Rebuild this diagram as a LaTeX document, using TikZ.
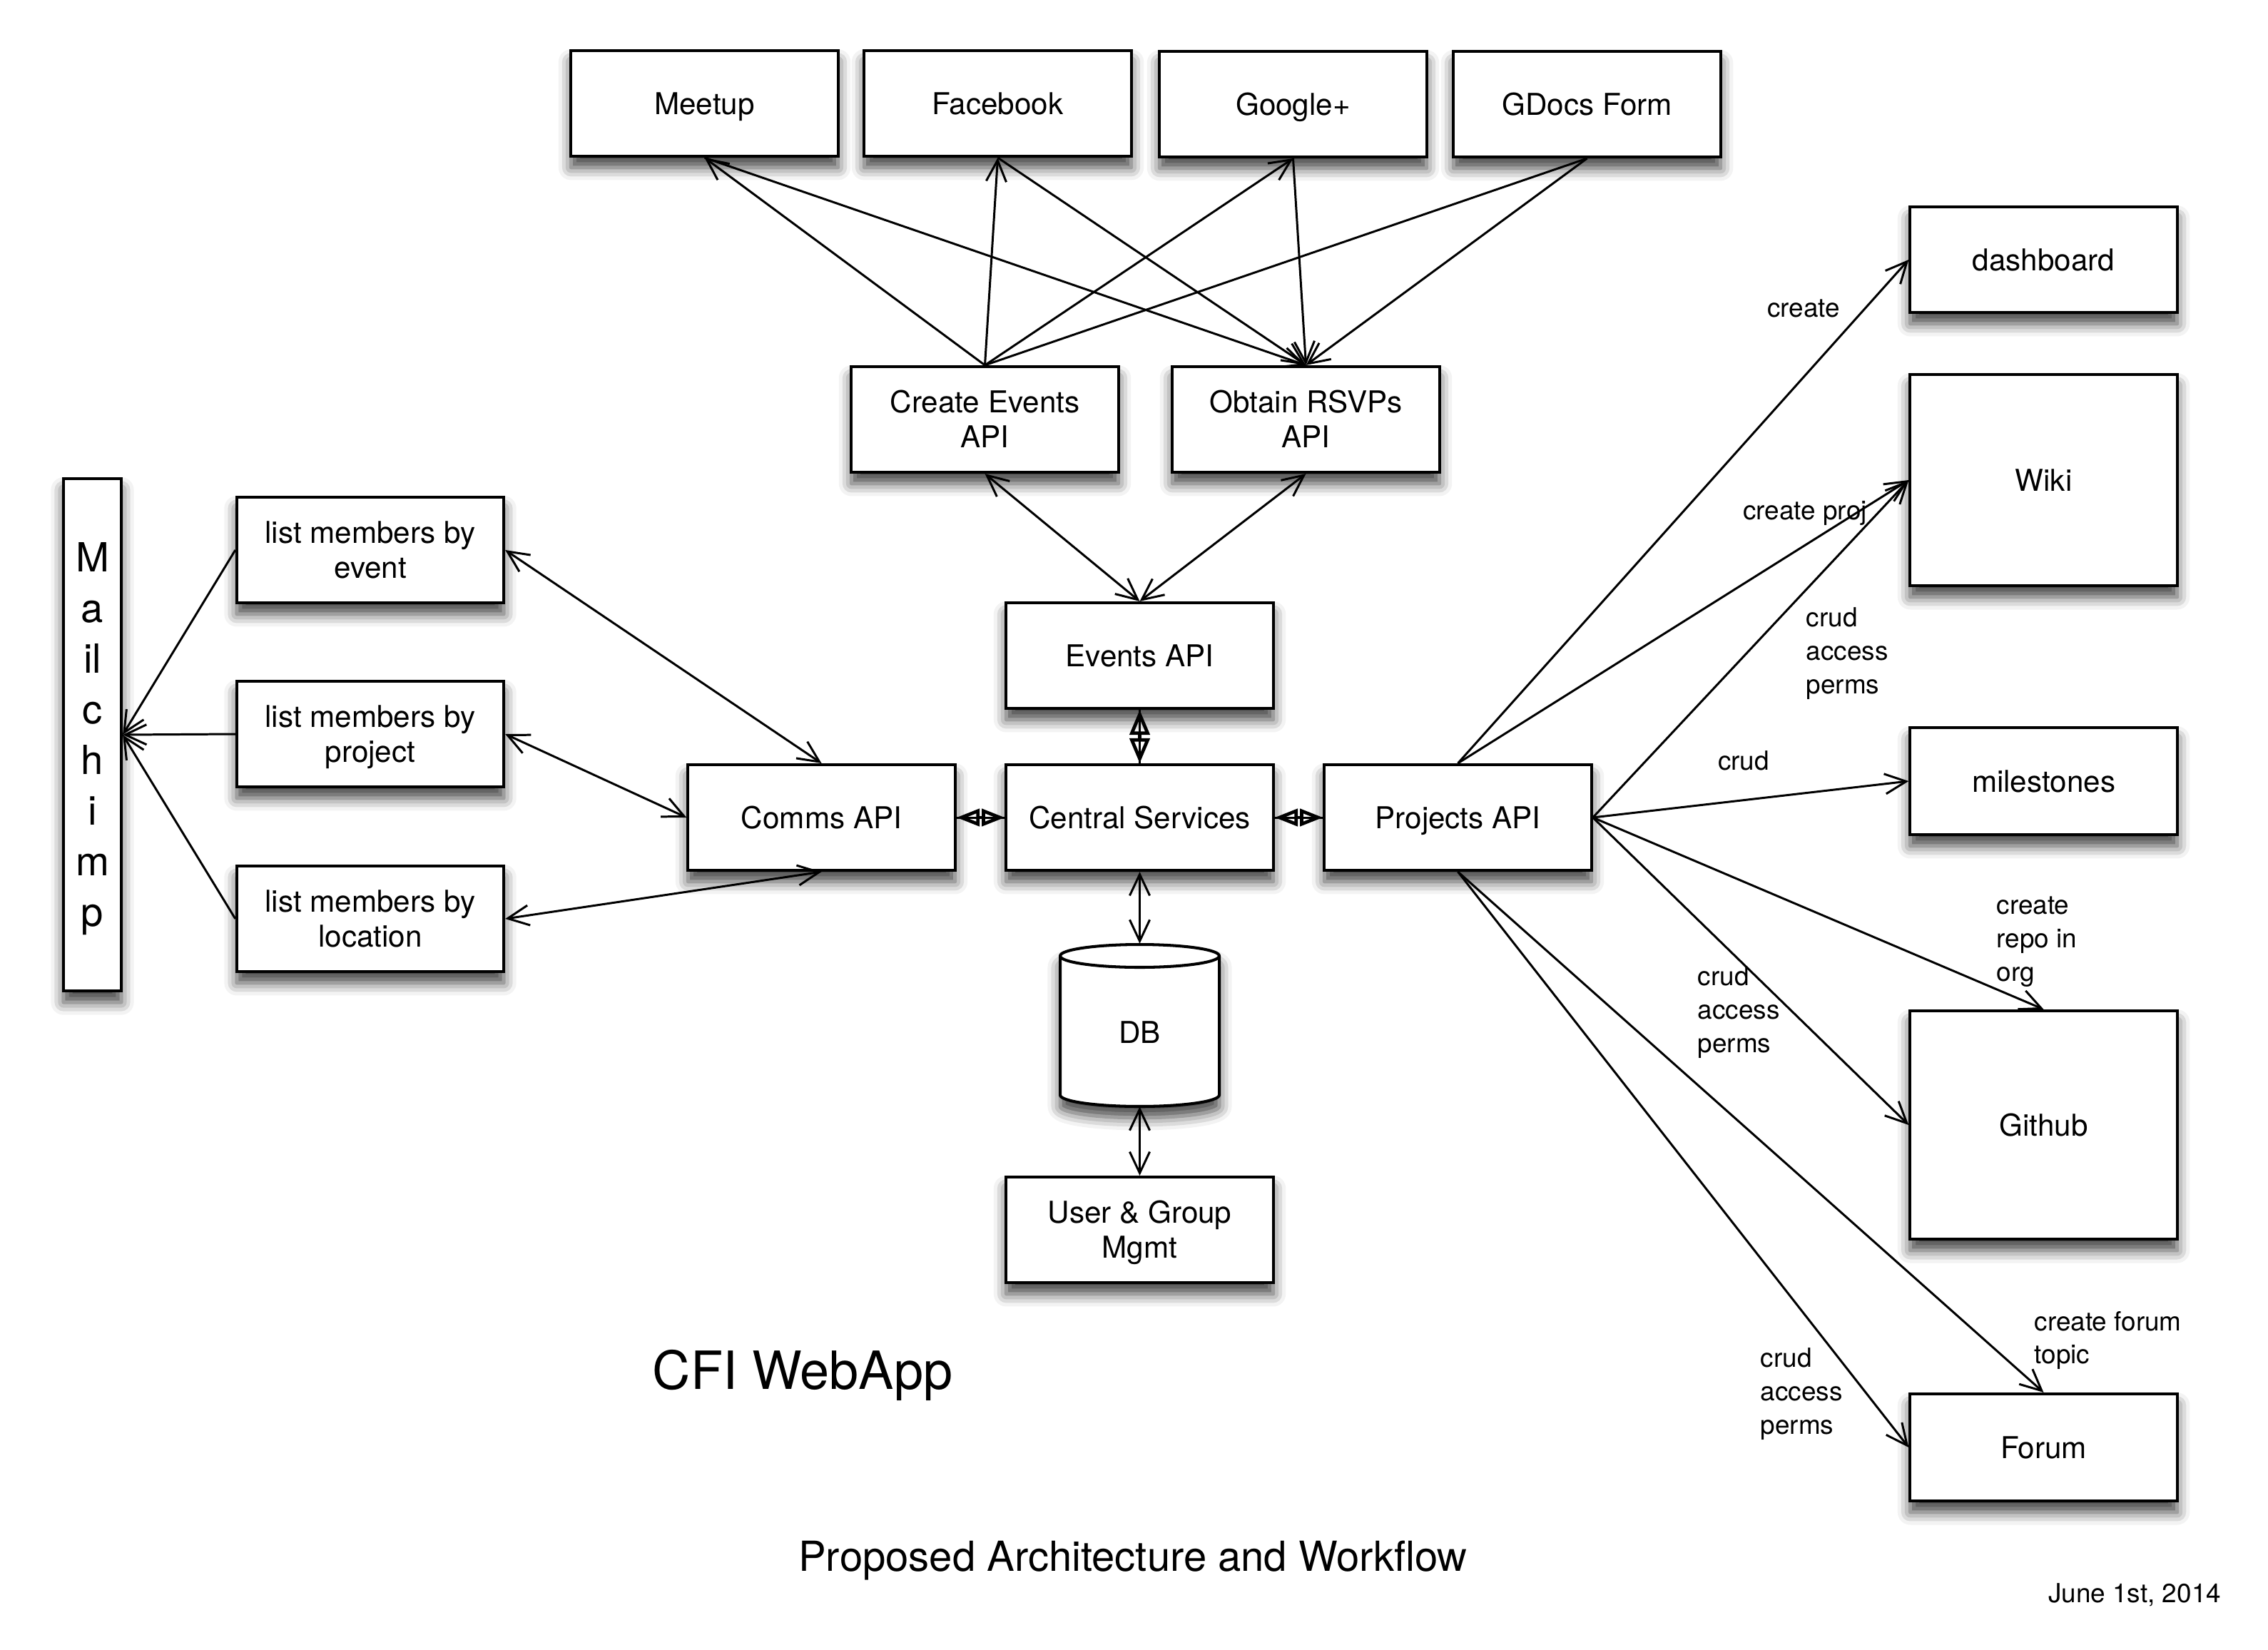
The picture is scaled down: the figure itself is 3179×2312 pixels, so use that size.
\documentclass[tikz,border=0pt]{standalone}
\usepackage{fontspec}
\setmainfont{TeX Gyre Heros}
\usetikzlibrary{arrows.meta,shadows.blur}
\newcommand\mytopstrut{\rule{0pt}{12pt}}
\newcommand\mybotstrut{\rule[-3.4pt]{0pt}{3.4pt}}
\begin{document}
\begin{tikzpicture}[x=0.01cm,y=-0.01cm,
  boxshadow/.style={blur shadow={shadow xshift=0pt, shadow yshift=-4.5pt, shadow blur radius=5pt, shadow opacity=75}},
  box/.style={draw, line width=1.15pt, fill=white, rectangle, inner sep=0pt, align=center,
    minimum width=3.74cm, minimum height=1.48cm, font=\fontsize{12}{14}\selectfont, boxshadow,
    execute at begin node=\mytopstrut, execute at end node=\mybotstrut},
  twoline/.style={text height=26pt, text depth=3.4pt},
  conn/.style={line width=0.85pt},
  arr/.style={conn, -{Straight Barb[length=8.5pt,width=8pt]}},
  darr/.style={conn, {Straight Barb[length=8.5pt,width=8pt]}-{Straight Barb[length=8.5pt,width=8pt]}},
  diamv/.style={line width=1.35pt, {Triangle[open,length=10pt,width=8pt]}-{Triangle[open,length=10pt,width=8pt]}},
  diamh/.style={line width=1.35pt, {Triangle[open,length=9.2pt,width=6.8pt]}-{Triangle[open,length=9.2pt,width=6.8pt]}},
  lbl/.style={inner sep=0pt, align=left, font=\fontsize{10.5}{13.3}\selectfont}
]
\useasboundingbox (0,0) rectangle (3179,2312);

% top services
\node[box] (meetup) at (987.5,145) {Meetup};
\node[box] (facebook) at (1398.5,145) {Facebook};
\node[box] (google) at (1812.5,146) {Google+};
\node[box] (gdocs) at (2224.5,146) {GDocs Form};

\node[box, twoline] (cev) at (1380.5,588) {Create Events\\API};
\node[box, twoline] (rsvp) at (1830.5,588) {Obtain RSVPs\\API};
\node[box] (evapi) at (1597.5,919) {Events API};

\node[box] (comms) at (1151.5,1146) {Comms API};
\node[box] (central) at (1597.5,1146) {Central Services};
\node[box] (proj) at (2043.5,1146) {Projects API};

% DB cylinder
\node[minimum width=2.23cm, minimum height=2.27cm, inner sep=0pt] (db) at (1597.5,1437) {};
\path[draw, line width=1.15pt, fill=white, boxshadow]
  (1486,1340) -- (1486,1535) arc[start angle=180, end angle=0, x radius=111.5, y radius=16]
  -- (1709,1340) arc[start angle=0, end angle=-180, x radius=111.5, y radius=16] -- cycle;
\draw[line width=1.15pt] (1486,1340) arc[start angle=180, end angle=0, x radius=111.5, y radius=16];
\node[font=\fontsize{12}{14}\selectfont] (dbtext) at (1597.5,1447) {DB};

\node[box, twoline] (ugm) at (1597.5,1724) {User \& Group\\Mgmt};

% left side
\node[box, twoline] (lev) at (519,771) {list members by\\event};
\node[box, twoline] (lproj) at (519,1029) {list members by\\project};
\node[box, twoline] (lloc) at (519,1288) {list members by\\location};
\node[box, minimum width=0.81cm, minimum height=7.18cm, font=\fontsize{16}{20.2}\selectfont,
  text height=156.3pt, text depth=3.5pt] (mail) at (129.5,1030) {M\\a\\il\\c\\h\\i\\m\\p};

% right side
\node[box] (dash) at (2864.5,364) {dashboard};
\node[box, minimum height=2.96cm] (wiki) at (2864.5,673) {Wiki};
\node[box, minimum height=1.50cm] (miles) at (2864.5,1095) {milestones};
\node[box, minimum height=3.20cm] (github) at (2864.5,1577) {Github};
\node[box, minimum height=1.50cm] (forum) at (2864.5,2029) {Forum};

% top connectors
\draw[arr] (cev.north) -- (meetup.south);
\draw[arr] (cev.north) -- (facebook.south);
\draw[arr] (cev.north) -- (google.south);
\draw[conn] (cev.north) -- (gdocs.south);
\draw[arr] (meetup.south) -- (rsvp.north);
\draw[arr] (facebook.south) -- (rsvp.north);
\draw[arr] (google.south) -- (rsvp.north);
\draw[arr] (gdocs.south) -- (rsvp.north);

\draw[darr] (cev.south) -- (evapi.north);
\draw[darr] (rsvp.south) -- (evapi.north);

% diamond connectors
\draw[conn] (evapi.south) -- (central.north);
\draw[diamv] (evapi.south) -- (central.north);
\draw[conn] (comms.east) -- (central.west);
\draw[diamh] (comms.east) -- (central.west);
\draw[conn] (central.east) -- (proj.west);
\draw[diamh] (central.east) -- (proj.west);

% DB
\draw[darr] (central.south) -- (db.north);
\draw[darr] (db.south) -- (ugm.north);

% comms
\draw[darr] (comms.north) -- (lev.east);
\draw[darr] (comms.west) -- (lproj.east);
\draw[darr] (comms.south) -- (lloc.east);
\draw[arr] (lev.west) -- (mail.east);
\draw[arr] (lproj.west) -- (mail.east);
\draw[arr] (lloc.west) -- (mail.east);

% projects
\draw[arr] (proj.north) -- (dash.west);
\draw[arr] (proj.north) -- (wiki.west);
\draw[arr] (proj.east) -- (wiki.west);
\draw[arr] (proj.east) -- (miles.west);
\draw[arr] (proj.east) -- (github.north);
\draw[arr] (proj.east) -- (github.west);
\draw[arr] (proj.south) -- (forum.north);
\draw[arr] (proj.south) -- (forum.west);

% edge labels
\node[lbl] (l1) at (2528,432) {create};
\node[lbl] (l2) at (2530,719) {create proj};
\node[lbl, anchor=west] (l3) at (2531,916) {crud\\access\\perms};
\node[lbl] (l4) at (2444,1066) {crud};
\node[lbl, anchor=west] (l5) at (2798,1320) {create\\repo in\\org};
\node[lbl, anchor=west] (l6) at (2379,1419) {crud\\access\\perms};
\node[lbl, anchor=west] (l7) at (2851,1879) {create forum\\topic};
\node[lbl, anchor=west] (l8) at (2467,1954) {crud\\access\\perms};

% titles
\node[font=\fontsize{21}{25}\selectfont] (title) at (1125,1928) {CFI WebApp};
\node[font=\fontsize{16.5}{20}\selectfont] (sub) at (1588,2188) {Proposed Architecture and Workflow};
\node[font=\fontsize{10.5}{13}\selectfont] (date) at (2992,2236) {June 1st, 2014};
\end{tikzpicture}
\end{document}
